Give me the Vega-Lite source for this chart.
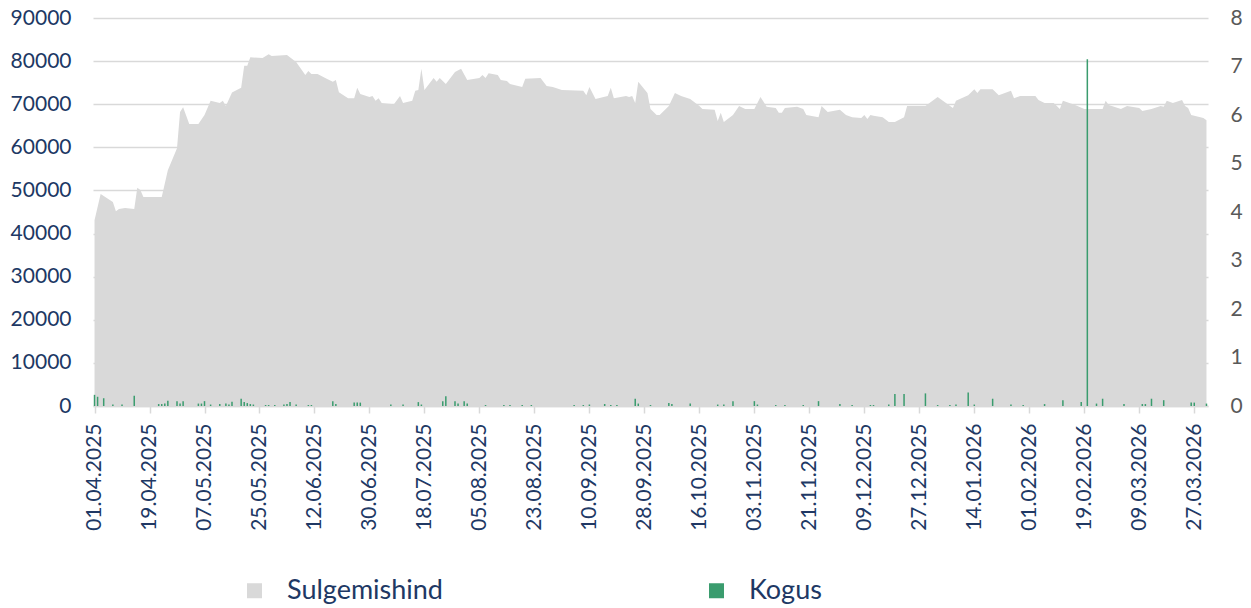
{
  "$schema": "https://vega.github.io/schema/vega-lite/v6.json",
  "width": 1115,
  "height": 388,
  "autosize": {"type": "none"},
  "padding": {"left": 93, "top": 18, "right": 43, "bottom": 202},
  "background": "white",
  "config": {"font": "Lato", "view": {"stroke": null}},
  "datasets": {
    "price": [
      {"date": "2025-04-01", "close": 43100}, {"date": "2025-04-03", "close": 49200}, {"date": "2025-04-07", "close": 47300},
      {"date": "2025-04-08", "close": 45200}, {"date": "2025-04-09", "close": 45700}, {"date": "2025-04-11", "close": 45900},
      {"date": "2025-04-14", "close": 45700}, {"date": "2025-04-15", "close": 50600}, {"date": "2025-04-16", "close": 50100},
      {"date": "2025-04-17", "close": 48500}, {"date": "2025-04-23", "close": 48500}, {"date": "2025-04-25", "close": 54700},
      {"date": "2025-04-28", "close": 59800}, {"date": "2025-04-29", "close": 68200}, {"date": "2025-04-30", "close": 69300},
      {"date": "2025-05-02", "close": 65400}, {"date": "2025-05-05", "close": 65400}, {"date": "2025-05-07", "close": 67500},
      {"date": "2025-05-09", "close": 70800}, {"date": "2025-05-12", "close": 70300}, {"date": "2025-05-13", "close": 70800},
      {"date": "2025-05-14", "close": 69600}, {"date": "2025-05-16", "close": 72700}, {"date": "2025-05-19", "close": 73800},
      {"date": "2025-05-20", "close": 78900}, {"date": "2025-05-21", "close": 78900}, {"date": "2025-05-22", "close": 80900},
      {"date": "2025-05-26", "close": 80700}, {"date": "2025-05-28", "close": 81600}, {"date": "2025-05-29", "close": 81200},
      {"date": "2025-06-03", "close": 81400}, {"date": "2025-06-06", "close": 79800}, {"date": "2025-06-09", "close": 76800},
      {"date": "2025-06-10", "close": 77700}, {"date": "2025-06-11", "close": 77000}, {"date": "2025-06-13", "close": 77000},
      {"date": "2025-06-16", "close": 75900}, {"date": "2025-06-18", "close": 75200}, {"date": "2025-06-19", "close": 75600},
      {"date": "2025-06-20", "close": 72800}, {"date": "2025-06-23", "close": 71400}, {"date": "2025-06-25", "close": 71400},
      {"date": "2025-06-26", "close": 73800}, {"date": "2025-06-27", "close": 72400}, {"date": "2025-06-30", "close": 71700},
      {"date": "2025-07-01", "close": 71900}, {"date": "2025-07-02", "close": 70800}, {"date": "2025-07-03", "close": 71400},
      {"date": "2025-07-04", "close": 70300}, {"date": "2025-07-08", "close": 70000}, {"date": "2025-07-10", "close": 71900},
      {"date": "2025-07-11", "close": 70300}, {"date": "2025-07-14", "close": 70800}, {"date": "2025-07-15", "close": 73100},
      {"date": "2025-07-16", "close": 73300}, {"date": "2025-07-17", "close": 78200}, {"date": "2025-07-18", "close": 73300},
      {"date": "2025-07-21", "close": 76100}, {"date": "2025-07-22", "close": 75200}, {"date": "2025-07-23", "close": 76100},
      {"date": "2025-07-25", "close": 74700}, {"date": "2025-07-28", "close": 77500}, {"date": "2025-07-30", "close": 78200},
      {"date": "2025-08-01", "close": 75600}, {"date": "2025-08-05", "close": 76100}, {"date": "2025-08-06", "close": 76800},
      {"date": "2025-08-07", "close": 76100}, {"date": "2025-08-08", "close": 77200}, {"date": "2025-08-11", "close": 76800},
      {"date": "2025-08-12", "close": 75600}, {"date": "2025-08-14", "close": 75400}, {"date": "2025-08-15", "close": 74700},
      {"date": "2025-08-19", "close": 74000}, {"date": "2025-08-20", "close": 75900}, {"date": "2025-08-25", "close": 76100},
      {"date": "2025-08-27", "close": 74200}, {"date": "2025-08-29", "close": 74000}, {"date": "2025-09-01", "close": 73300},
      {"date": "2025-09-08", "close": 73100}, {"date": "2025-09-09", "close": 72100}, {"date": "2025-09-10", "close": 74000},
      {"date": "2025-09-12", "close": 71200}, {"date": "2025-09-16", "close": 71900}, {"date": "2025-09-17", "close": 73800},
      {"date": "2025-09-18", "close": 71400}, {"date": "2025-09-22", "close": 71900}, {"date": "2025-09-23", "close": 71700},
      {"date": "2025-09-24", "close": 71900}, {"date": "2025-09-25", "close": 70300}, {"date": "2025-09-26", "close": 75200},
      {"date": "2025-09-29", "close": 72600}, {"date": "2025-09-30", "close": 68900}, {"date": "2025-10-02", "close": 67500},
      {"date": "2025-10-03", "close": 67500}, {"date": "2025-10-06", "close": 69600}, {"date": "2025-10-08", "close": 72600},
      {"date": "2025-10-10", "close": 71900}, {"date": "2025-10-13", "close": 71200}, {"date": "2025-10-16", "close": 69600},
      {"date": "2025-10-17", "close": 68900}, {"date": "2025-10-21", "close": 68700}, {"date": "2025-10-22", "close": 66100},
      {"date": "2025-10-23", "close": 68000}, {"date": "2025-10-24", "close": 65900}, {"date": "2025-10-27", "close": 67500},
      {"date": "2025-10-29", "close": 69600}, {"date": "2025-10-31", "close": 68900}, {"date": "2025-11-03", "close": 68900},
      {"date": "2025-11-05", "close": 71700}, {"date": "2025-11-07", "close": 69400}, {"date": "2025-11-10", "close": 69100},
      {"date": "2025-11-11", "close": 68000}, {"date": "2025-11-12", "close": 68000}, {"date": "2025-11-13", "close": 69100},
      {"date": "2025-11-17", "close": 69400}, {"date": "2025-11-19", "close": 68900}, {"date": "2025-11-20", "close": 67500},
      {"date": "2025-11-24", "close": 67000}, {"date": "2025-11-25", "close": 69600}, {"date": "2025-11-27", "close": 68200},
      {"date": "2025-12-01", "close": 68700}, {"date": "2025-12-03", "close": 67500}, {"date": "2025-12-05", "close": 67000},
      {"date": "2025-12-08", "close": 66800}, {"date": "2025-12-09", "close": 67500}, {"date": "2025-12-10", "close": 66600},
      {"date": "2025-12-11", "close": 67500}, {"date": "2025-12-12", "close": 67300}, {"date": "2025-12-15", "close": 67000},
      {"date": "2025-12-17", "close": 65900}, {"date": "2025-12-19", "close": 65900}, {"date": "2025-12-22", "close": 67000},
      {"date": "2025-12-23", "close": 69600}, {"date": "2025-12-29", "close": 69600}, {"date": "2026-01-02", "close": 71700},
      {"date": "2026-01-07", "close": 69100}, {"date": "2026-01-08", "close": 70800}, {"date": "2026-01-12", "close": 72100},
      {"date": "2026-01-14", "close": 73500}, {"date": "2026-01-15", "close": 72600}, {"date": "2026-01-16", "close": 73500},
      {"date": "2026-01-20", "close": 73500}, {"date": "2026-01-22", "close": 72100}, {"date": "2026-01-26", "close": 73100},
      {"date": "2026-01-27", "close": 71400}, {"date": "2026-01-29", "close": 71900}, {"date": "2026-02-03", "close": 71900},
      {"date": "2026-02-04", "close": 71000}, {"date": "2026-02-06", "close": 70300}, {"date": "2026-02-09", "close": 70300},
      {"date": "2026-02-11", "close": 68900}, {"date": "2026-02-12", "close": 70800}, {"date": "2026-02-16", "close": 69800},
      {"date": "2026-02-19", "close": 68900}, {"date": "2026-02-25", "close": 68900}, {"date": "2026-02-26", "close": 70800},
      {"date": "2026-02-27", "close": 69800}, {"date": "2026-03-03", "close": 68900}, {"date": "2026-03-05", "close": 69600},
      {"date": "2026-03-09", "close": 69100}, {"date": "2026-03-10", "close": 68400}, {"date": "2026-03-13", "close": 68900},
      {"date": "2026-03-16", "close": 69600}, {"date": "2026-03-17", "close": 69400}, {"date": "2026-03-18", "close": 70800},
      {"date": "2026-03-20", "close": 70300}, {"date": "2026-03-23", "close": 71000}, {"date": "2026-03-24", "close": 69600},
      {"date": "2026-03-25", "close": 69100}, {"date": "2026-03-26", "close": 67500}, {"date": "2026-03-30", "close": 66800},
      {"date": "2026-03-31", "close": 66300}
    ],
    "volume": [
      {"date": "2025-04-01", "volume": 0.23}, {"date": "2025-04-02", "volume": 0.19}, {"date": "2025-04-04", "volume": 0.16},
      {"date": "2025-04-07", "volume": 0.03}, {"date": "2025-04-10", "volume": 0.03}, {"date": "2025-04-14", "volume": 0.21},
      {"date": "2025-04-22", "volume": 0.04}, {"date": "2025-04-23", "volume": 0.04}, {"date": "2025-04-24", "volume": 0.05},
      {"date": "2025-04-25", "volume": 0.11}, {"date": "2025-04-28", "volume": 0.1}, {"date": "2025-04-29", "volume": 0.05},
      {"date": "2025-04-30", "volume": 0.1}, {"date": "2025-05-05", "volume": 0.05}, {"date": "2025-05-06", "volume": 0.05},
      {"date": "2025-05-07", "volume": 0.1}, {"date": "2025-05-09", "volume": 0.03}, {"date": "2025-05-12", "volume": 0.04},
      {"date": "2025-05-14", "volume": 0.05}, {"date": "2025-05-15", "volume": 0.03}, {"date": "2025-05-16", "volume": 0.09},
      {"date": "2025-05-19", "volume": 0.15}, {"date": "2025-05-20", "volume": 0.08}, {"date": "2025-05-21", "volume": 0.06},
      {"date": "2025-05-22", "volume": 0.04}, {"date": "2025-05-23", "volume": 0.03}, {"date": "2025-05-27", "volume": 0.02},
      {"date": "2025-05-28", "volume": 0.02}, {"date": "2025-05-30", "volume": 0.02}, {"date": "2025-06-02", "volume": 0.03},
      {"date": "2025-06-03", "volume": 0.04}, {"date": "2025-06-04", "volume": 0.08}, {"date": "2025-06-06", "volume": 0.03},
      {"date": "2025-06-10", "volume": 0.02}, {"date": "2025-06-11", "volume": 0.02}, {"date": "2025-06-18", "volume": 0.1},
      {"date": "2025-06-19", "volume": 0.04}, {"date": "2025-06-25", "volume": 0.07}, {"date": "2025-06-26", "volume": 0.07},
      {"date": "2025-06-27", "volume": 0.07}, {"date": "2025-07-07", "volume": 0.03}, {"date": "2025-07-11", "volume": 0.03},
      {"date": "2025-07-16", "volume": 0.08}, {"date": "2025-07-17", "volume": 0.03}, {"date": "2025-07-24", "volume": 0.1},
      {"date": "2025-07-25", "volume": 0.2}, {"date": "2025-07-28", "volume": 0.1}, {"date": "2025-07-29", "volume": 0.05},
      {"date": "2025-07-31", "volume": 0.1}, {"date": "2025-08-01", "volume": 0.05}, {"date": "2025-08-07", "volume": 0.02},
      {"date": "2025-08-13", "volume": 0.02}, {"date": "2025-08-15", "volume": 0.02}, {"date": "2025-08-19", "volume": 0.02},
      {"date": "2025-08-22", "volume": 0.02}, {"date": "2025-09-05", "volume": 0.02}, {"date": "2025-09-08", "volume": 0.02},
      {"date": "2025-09-10", "volume": 0.03}, {"date": "2025-09-15", "volume": 0.04}, {"date": "2025-09-17", "volume": 0.02},
      {"date": "2025-09-19", "volume": 0.02}, {"date": "2025-09-25", "volume": 0.15}, {"date": "2025-09-26", "volume": 0.05},
      {"date": "2025-09-30", "volume": 0.02}, {"date": "2025-10-06", "volume": 0.06}, {"date": "2025-10-07", "volume": 0.04},
      {"date": "2025-10-13", "volume": 0.05}, {"date": "2025-10-22", "volume": 0.03}, {"date": "2025-10-24", "volume": 0.03},
      {"date": "2025-10-27", "volume": 0.1}, {"date": "2025-11-03", "volume": 0.1}, {"date": "2025-11-04", "volume": 0.03},
      {"date": "2025-11-10", "volume": 0.02}, {"date": "2025-11-13", "volume": 0.02}, {"date": "2025-11-19", "volume": 0.02},
      {"date": "2025-11-24", "volume": 0.1}, {"date": "2025-12-01", "volume": 0.04}, {"date": "2025-12-05", "volume": 0.02},
      {"date": "2025-12-11", "volume": 0.02}, {"date": "2025-12-12", "volume": 0.02}, {"date": "2025-12-17", "volume": 0.03},
      {"date": "2025-12-19", "volume": 0.25}, {"date": "2025-12-22", "volume": 0.25}, {"date": "2025-12-29", "volume": 0.26},
      {"date": "2026-01-02", "volume": 0.02}, {"date": "2026-01-06", "volume": 0.02}, {"date": "2026-01-08", "volume": 0.03},
      {"date": "2026-01-12", "volume": 0.28}, {"date": "2026-01-14", "volume": 0.03}, {"date": "2026-01-20", "volume": 0.15},
      {"date": "2026-01-26", "volume": 0.03}, {"date": "2026-01-30", "volume": 0.02}, {"date": "2026-02-06", "volume": 0.04},
      {"date": "2026-02-12", "volume": 0.12}, {"date": "2026-02-18", "volume": 0.08}, {"date": "2026-02-20", "volume": 7.15},
      {"date": "2026-02-23", "volume": 0.05}, {"date": "2026-02-25", "volume": 0.15}, {"date": "2026-03-04", "volume": 0.04},
      {"date": "2026-03-10", "volume": 0.04}, {"date": "2026-03-11", "volume": 0.04}, {"date": "2026-03-13", "volume": 0.15},
      {"date": "2026-03-17", "volume": 0.12}, {"date": "2026-03-26", "volume": 0.07}, {"date": "2026-03-27", "volume": 0.07},
      {"date": "2026-03-31", "volume": 0.05}
    ]
  },
  "layer": [
    {
      "data": {"name": "price"},
      "mark": {"type": "area", "opacity": 1},
      "encoding": {
        "x": {
          "field": "date", "type": "temporal",
          "scale": {"type": "utc", "padding": 0, "nice": false, "domain": [{"year": 2025, "month": 3, "date": 31, "hours": 12, "utc": true}, {"year": 2026, "month": 3, "date": 31, "hours": 12, "utc": true}]},
          "axis": {
            "title": null,
            "values": [
              {"year": 2025, "month": 4, "date": 1, "utc": true}, {"year": 2025, "month": 4, "date": 19, "utc": true},
              {"year": 2025, "month": 5, "date": 7, "utc": true}, {"year": 2025, "month": 5, "date": 25, "utc": true},
              {"year": 2025, "month": 6, "date": 12, "utc": true}, {"year": 2025, "month": 6, "date": 30, "utc": true},
              {"year": 2025, "month": 7, "date": 18, "utc": true}, {"year": 2025, "month": 8, "date": 5, "utc": true},
              {"year": 2025, "month": 8, "date": 23, "utc": true}, {"year": 2025, "month": 9, "date": 10, "utc": true},
              {"year": 2025, "month": 9, "date": 28, "utc": true}, {"year": 2025, "month": 10, "date": 16, "utc": true},
              {"year": 2025, "month": 11, "date": 3, "utc": true}, {"year": 2025, "month": 11, "date": 21, "utc": true},
              {"year": 2025, "month": 12, "date": 9, "utc": true}, {"year": 2025, "month": 12, "date": 27, "utc": true},
              {"year": 2026, "month": 1, "date": 14, "utc": true}, {"year": 2026, "month": 2, "date": 1, "utc": true},
              {"year": 2026, "month": 2, "date": 19, "utc": true}, {"year": 2026, "month": 3, "date": 9, "utc": true},
              {"year": 2026, "month": 3, "date": 27, "utc": true}
            ],
            "format": "%d.%m.%Y",
            "labelAngle": -90,
            "labelFontSize": 21,
            "labelColor": "#203864",
            "labelPadding": 10,
            "tickSize": 7,
            "tickColor": "#D9D9D9",
            "tickWidth": 1.5,
            "domainColor": "#D9D9D9",
            "domainWidth": 1.5,
            "grid": false,
            "labelOverlap": false,
            "labelFlush": false,
            "labelBound": false
          }
        },
        "y": {
          "field": "close", "type": "quantitative",
          "scale": {"domain": [0, 90000], "nice": false},
          "axis": {
            "title": null,
            "values": [0, 10000, 20000, 30000, 40000, 50000, 60000, 70000, 80000, 90000],
            "format": "d",
            "grid": true,
            "gridColor": "#D9D9D9",
            "gridWidth": 1.5,
            "domain": false,
            "ticks": false,
            "labelFontSize": 21,
            "labelColor": "#203864",
            "labelPadding": 22,
            "zindex": 0
          }
        },
        "color": {
          "datum": "Sulgemishind", "type": "nominal",
          "scale": {"domain": ["Sulgemishind", "Kogus"], "range": ["#D9D9D9", "#3A9C6E"]},
          "legend": {
            "orient": "none",
            "legendX": 148,
            "legendY": 559,
            "direction": "horizontal",
            "title": null,
            "symbolType": "square",
            "symbolSize": 225,
            "symbolStrokeWidth": 0,
            "symbolOpacity": 1,
            "labelFontSize": 27,
            "labelColor": "#203864",
            "labelOffset": 19,
            "columnPadding": 260,
            "padding": 0
          }
        }
      }
    },
    {
      "data": {"name": "volume"},
      "mark": {"type": "bar", "width": 1.5, "opacity": 1},
      "encoding": {
        "x": {"field": "date", "type": "temporal"},
        "y": {
          "field": "volume", "type": "quantitative",
          "scale": {"domain": [0, 8], "nice": false},
          "axis": {
            "orient": "right",
            "title": null,
            "values": [0, 1, 2, 3, 4, 5, 6, 7, 8],
            "grid": false,
            "domain": false,
            "ticks": false,
            "labelFontSize": 21,
            "labelColor": "#595959",
            "labelPadding": 22
          }
        },
        "color": {"datum": "Kogus", "type": "nominal"}
      }
    }
  ],
  "resolve": {"scale": {"y": "independent"}}
}
